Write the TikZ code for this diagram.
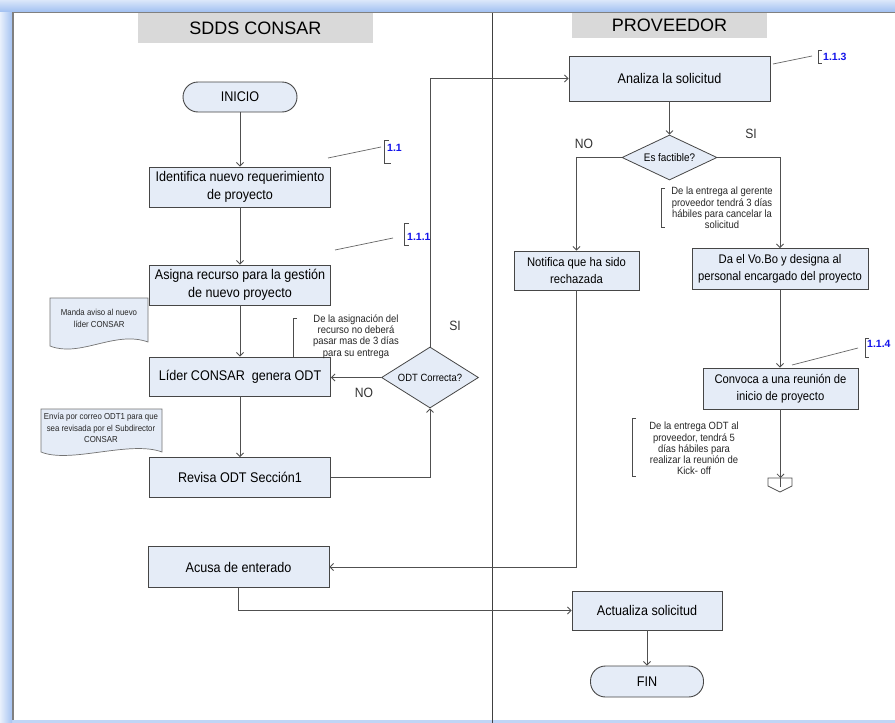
\documentclass[tikz,border=0pt]{standalone}
\usepackage{fontspec}
\setmainfont{Liberation Sans}
\newfontfamily\cond{Liberation Sans}[FakeStretch=0.9]
\usetikzlibrary{arrows.meta,shapes.geometric}
\definecolor{boxfill}{RGB}{229,236,247}
\definecolor{boxline}{RGB}{70,70,70}
\definecolor{hdrfill}{RGB}{217,217,217}
\definecolor{frameblue}{RGB}{165,195,242}
\definecolor{linegray}{RGB}{80,80,80}
\definecolor{refblue}{RGB}{20,20,235}
\begin{document}
\begin{tikzpicture}[x=1pt,y=-1pt,
  proc/.style={draw=boxline, fill=boxfill, line width=0.9pt, inner sep=0pt, align=center, font=\cond\fontsize{14}{18}\selectfont},
  procsm/.style={proc, font=\cond\fontsize{12.5}{17}\selectfont},
  term/.style={proc, rounded corners=15pt},
  dec/.style={draw=boxline, fill=boxfill, line width=0.8pt, diamond, aspect=1.6, inner sep=0pt, font=\cond\fontsize{10.5}{12}\selectfont},
  hdr/.style={fill=hdrfill, inner sep=0pt, font=\fontsize{18}{20}\selectfont},
  flow/.style={draw=linegray, line width=0.8pt, -{Straight Barb[length=3.5pt,width=7pt]}},
  plain/.style={draw=linegray, line width=0.8pt},
  lbl/.style={font=\cond\fontsize{13.5}{15}\selectfont, text=black!80, inner sep=0pt},
  note/.style={font=\cond\fontsize{10.5}{11.2}\selectfont, align=center, inner sep=0pt, text=black!85},
  tinytxt/.style={font=\cond\fontsize{8.7}{11.5}\selectfont, align=center, inner sep=0pt, text=black!85},
  refl/.style={font=\bfseries\fontsize{10.5}{11}\selectfont, text=refblue, inner sep=0pt, anchor=west},
  brk/.style={draw=black!70, line width=0.8pt},
  lead/.style={draw=black!60, line width=0.7pt},
  docshape/.style={draw=black!55, fill=boxfill, line width=0.7pt}
]
\useasboundingbox (0,0) rectangle (895,723);
% frame
\fill[frameblue!70] (0,0) rectangle (895,723);
\shade[left color=white!75!frameblue, right color=frameblue] (0,0) rectangle (12,723);
\shade[top color=white!60!frameblue, bottom color=frameblue] (0,0) rectangle (895,11);
\fill[white] (12,12) rectangle (895,720);
\draw[black!50, line width=1.5pt] (13,720) -- (13,12.5) -- (895,12.5);
% lane divider
\draw[black!75, line width=0.8pt] (492,12.5) -- (492,723);
% headers
\node[hdr, minimum width=235, minimum height=30] (h1) at (255.5,28) {SDDS CONSAR};
\node[hdr, minimum width=195, minimum height=25] (h2) at (669.5,25.5) {PROVEEDOR};

% left lane
\node[term, minimum width=114, minimum height=30] (inicio) at (240,97) {INICIO};
\node[proc, minimum width=181, minimum height=40] (ident) at (240,187) {Identifica nuevo requerimiento\\de proyecto};
\node[proc, minimum width=181, minimum height=40] (asigna) at (240,285) {Asigna recurso para la gestión\\de nuevo proyecto};
\node[proc, minimum width=181, minimum height=39] (lider) at (240,376.5) {Líder CONSAR\ \ genera ODT};
\node[proc, minimum width=181, minimum height=40] (revisa) at (240,477.5) {Revisa ODT Sección1};
\node[proc, minimum width=181, minimum height=41] (acusa) at (238.5,567) {Acusa de enterado};
\node[dec, minimum width=97, minimum height=61] (odtc) at (430,377.5) {ODT Correcta?};

% right lane
\node[proc, minimum width=201, minimum height=45] (analiza) at (669.5,78.5) {Analiza la solicitud};
\node[dec, aspect=2, minimum width=95, minimum height=45, font=\cond\fontsize{11}{12}\selectfont] (fact) at (669.5,157.5) {Es factible?};
\node[procsm, minimum width=125, minimum height=39] (notif) at (576.5,270.5) {Notifica que ha sido\\rechazada};
\node[procsm, minimum width=176, minimum height=41] (vobo) at (780,269) {Da el Vo.Bo y designa al\\personal encargado del proyecto};
\node[procsm, minimum width=155, minimum height=41] (convoca) at (780.5,388.5) {Convoca a una reunión de\\inicio de proyecto};
\node[proc, minimum width=150, minimum height=39] (actual) at (647,610.5) {Actualiza solicitud};
\node[term, minimum width=113, minimum height=31] (fin) at (647,681.5) {FIN};
% off-page connector
\draw[plain, fill=white] (768,478) -- (792,478) -- (792,486) -- (780,492) -- (768,486) -- cycle;
\coordinate (offp) at (780.5,478);
\draw[plain] (780.5,478) -- (780.5,487);

% connectors
\draw[flow] (inicio) -- (ident);
\draw[flow] (ident) -- (asigna);
\draw[flow] (asigna) -- (lider);
\draw[flow] (lider) -- (revisa);
\draw[flow] (revisa.east) -| (odtc.south);
\draw[flow] (odtc.north) |- (analiza.west);
\draw[flow] (odtc.west) -- (odtc.west -| lider.east);
\draw[flow] (analiza) -- (fact);
\draw[flow] (fact.west) -| (notif.north);
\draw[flow] (fact.east) -| (vobo.north);
\draw[flow] (vobo.south) -- (vobo.south |- convoca.north);
\draw[flow] (convoca.south) -- (offp);
\draw[flow] (notif.south) |- (acusa.east);
\draw[flow] (acusa.south) |- (actual.west);
\draw[flow] (actual) -- (fin);

% labels
\node[lbl] (si1) at (455,326) {SI};
\node[lbl] (no1) at (364,393) {NO};
\node[lbl] (no2) at (584,144) {NO};
\node[lbl] (si2) at (751,134) {SI};

% reference markers
\draw[lead] (328,158) -- (381,147);
\draw[brk] (389,140) -- (384,140) -- (384,163) -- (391,163);
\node[refl] (r1) at (387,148) {1.1};
\draw[lead] (335,250) -- (393,238);
\draw[brk] (409,223) -- (404,223) -- (404,245) -- (409,245);
\node[refl] (r2) at (407,237) {1.1.1};
\draw[lead] (773,64) -- (812,56);
\draw[brk] (822,50) -- (818,50) -- (818,63) -- (822,63);
\node[refl] (r3) at (823,57) {1.1.3};
\draw[lead] (792,365) -- (858,348);
\draw[brk] (869,338) -- (865,338) -- (865,357) -- (869,357);
\node[refl] (r4) at (867,344) {1.1.4};

% notes with brackets
\node[note] (n1) at (356,336.5) {De la asignación del\\recurso no deberá\\pasar mas de 3 días\\para su entrega};
\draw[brk] (297,318) -- (293,318) -- (293,357);
\node[note] (n2) at (722,208) {De la entrega al gerente\\proveedor tendrá 3 días\\hábiles para cancelar la\\solicitud};
\draw[brk] (665,188) -- (661,188) -- (661,227) -- (665,227);
\node[note] (n3) at (694,448.5) {De la entrega ODT al\\proveedor, tendrá 5\\días hábiles para\\realizar la reunión de\\Kick- off};
\draw[brk] (636,418) -- (632,418) -- (632,476) -- (636,476);

% document shapes
\path[docshape] (50,298) -- (148,298) -- (148,342) .. controls (115,330) and (80,358) .. (50,346) -- cycle;
\node[tinytxt] (m1) at (99,318.5) {Manda aviso al nuevo\\líder CONSAR};
\path[docshape] (41,409) -- (162,409) -- (162,452) .. controls (130,440) and (70,464) .. (41,452) -- cycle;
\node[tinytxt] (m2) at (101,428) {Envía por correo ODT1 para que\\sea revisada por el Subdirector\\CONSAR};
\end{tikzpicture}
\end{document}
